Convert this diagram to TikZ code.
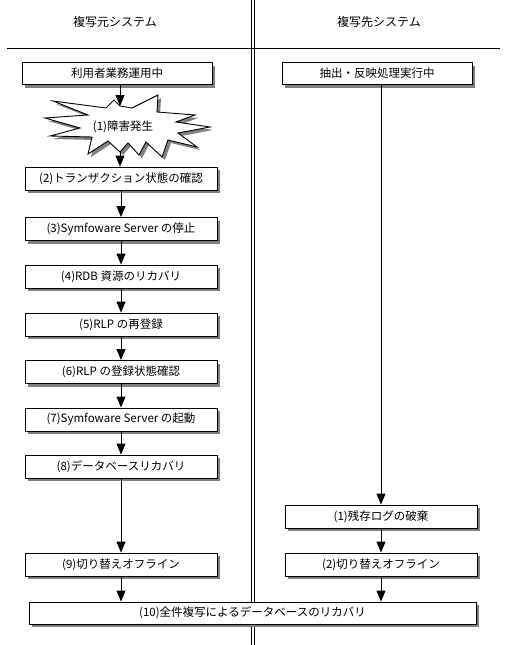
\documentclass[tikz,border=0pt]{standalone}
\usepackage{fontspec}
\setmainfont{Noto Sans CJK JP}
\usetikzlibrary{arrows.meta,shadows}

\tikzset{
  procbox/.style={draw=black,fill=white,line width=0.9pt,minimum width=192pt,minimum height=23pt,
    inner sep=0pt,font=\fontsize{11.5}{13}\selectfont,
    drop shadow={shadow xshift=3pt,shadow yshift=-3pt,fill=gray,opacity=1}},
  flow/.style={line width=0.9pt,-{Triangle[width=9pt,length=11pt]}},
  lanehead/.style={font=\fontsize{12}{14}\selectfont},
}

% outline of the failure burst
\def\burstpath{(53,101) -- (106,108) -- (114,100) -- (120,106) -- (132,108) -- (158,95)
  -- (157,112) -- (195,115) -- (176,122) -- (210,127) -- (178,133) -- (197,147)
  -- (168,140) -- (162,157) -- (146,142) -- (139,155) -- (128,143) -- (120,152)
  -- (108,141) -- (88,154) -- (92,137) -- (50,136) -- (80,128) -- (45,118)
  -- (88,115) -- cycle}

\begin{document}
\begin{tikzpicture}[x=1pt,y=-1pt]
  \useasboundingbox (0,0) rectangle (504,645);
  % lanes
  \draw[line width=0.9pt] (7,48) -- (500,48);
  \draw[line width=0.9pt] (251.5,0) -- (251.5,645);
  \draw[line width=0.9pt] (254.5,0) -- (254.5,645);
  \node[lanehead] (srcHead) at (115,22) {複写元システム};
  \node[lanehead] (dstHead) at (379,22) {複写先システム};

  % source system
  \node[procbox,minimum width=190pt,minimum height=22pt] (useOps) at (117,73.5) {利用者業務運用中};
  \fill[gray,xshift=3pt,yshift=-3pt] \burstpath;
  \draw[fill=white,line width=0.9pt] \burstpath;
  \node[font=\fontsize{11.5}{13}\selectfont] (fault) at (123,127) {(1)障害発生};
  \coordinate (faultTop) at (120,106);
  \coordinate (faultBot) at (120,152);
  \node[procbox] (txCheck)  at (121,178.5) {(2)トランザクション状態の確認};
  \node[procbox] (stopSrv)  at (121,229)   {(3)Symfoware Server の停止};
  \node[procbox] (rdbRec)   at (121,276.5) {(4)RDB 資源のリカバリ};
  \node[procbox] (rlpReg)   at (121,324.5) {(5)RLP の再登録};
  \node[procbox] (rlpChk)   at (121,372)   {(6)RLP の登録状態確認};
  \node[procbox] (startSrv) at (121,419.5) {(7)Symfoware Server の起動};
  \node[procbox] (dbRec)    at (121,466.5) {(8)データベースリカバリ};
  \node[procbox] (offSrc)   at (121,564.5) {(9)切り替えオフライン};

  % target system
  \node[procbox,minimum width=190pt,minimum height=22pt] (applyRun) at (377,73.5) {抽出・反映処理実行中};
  \node[procbox] (logDrop) at (381,516.5) {(1)残存ログの破棄};
  \node[procbox] (offDst)  at (381,564.5) {(2)切り替えオフライン};

  \node[procbox,minimum width=447pt,minimum height=22pt] (fullCopy) at (252.5,613) {(10)全件複写によるデータベースのリカバリ};

  % flow
  \draw[flow] (faultTop |- useOps.south) -- (faultTop);
  \draw[flow] (faultBot) -- (faultBot |- txCheck.north);
  \foreach \a/\b in {txCheck/stopSrv,stopSrv/rdbRec,rdbRec/rlpReg,rlpReg/rlpChk,
                     rlpChk/startSrv,startSrv/dbRec,dbRec/offSrc}
    \draw[flow] (\a) -- (\b);
  \draw[flow] (offSrc) -- (offSrc |- fullCopy.north);
  \draw[flow] (applyRun.south -| logDrop) -- (logDrop);
  \draw[flow] (logDrop) -- (offDst);
  \draw[flow] (offDst) -- (offDst |- fullCopy.north);
\end{tikzpicture}
\end{document}
